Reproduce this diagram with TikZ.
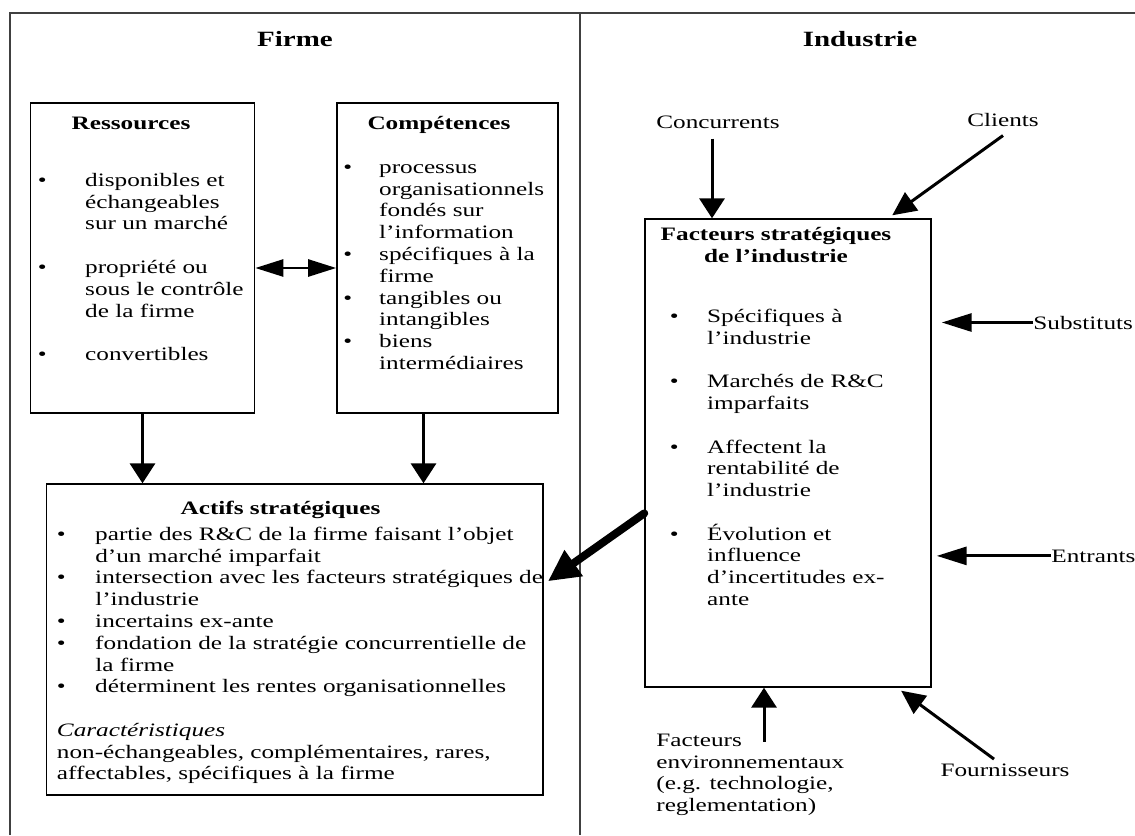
\documentclass[tikz,border=0pt]{standalone}
\usepackage{fontspec}
\setmainfont{Liberation Serif}[FakeStretch=1.33]
\usetikzlibrary{arrows.meta,calc}
\newcommand{\puce}[1]{\makebox[#1][l]{\textbullet}}
\newcommand{\suite}[1]{\hspace*{#1}}

\begin{document}
\begin{tikzpicture}[x=0.02cm,y=-0.02cm,
        texte/.style={font=\fontsize{10.8pt}{12.4pt}\selectfont, inner sep=0pt},
        bloc/.style={texte, align=left, anchor=north west},
        titre/.style={font=\fontsize{12.4pt}{14pt}\selectfont\bfseries, inner sep=0pt, anchor=base},
        stitre/.style={font=\fontsize{10.8pt}{12.4pt}\selectfont\bfseries, inner sep=0pt, anchor=base},
        cadre/.style={draw, line width=0.85pt, inner sep=0pt},
        vfl/.style={line width=1.7pt, -{Triangle[length=11.3pt,width=14.2pt]}},
        hfl/.style={line width=1.7pt, -{Triangle[length=17pt,width=10.2pt]}},
        dfl/.style={line width=1.7pt, -{Triangle[length=13.6pt,width=12.5pt]}}]
        \useasboundingbox (0,0) rectangle (1135,835);

        % cadre general
        \draw[line width=1.1pt, black!75] (10,835) -- (10,13) -- (1135,13);
        \draw[line width=1.1pt, black!75] (580,13) -- (580,835);

        \node[titre] (firme) at (295,46.5) {Firme};
        \node[titre] (industrie) at (860,46.5) {Industrie};

        % boites
        \node[cadre, minimum width=4.48cm, minimum height=6.2cm] (res) at (142.5,258) {};
        \node[cadre, minimum width=4.42cm, minimum height=6.2cm] (comp) at (447.5,258) {};
        \node[cadre, minimum width=9.94cm, minimum height=6.22cm] (act) at (294.7,639.5) {};
        \node[cadre, minimum width=5.72cm, minimum height=9.36cm] (fact) at (788,453) {};

        \node[stitre] (tres) at (131,129) {Ressources};
        \node[stitre] (tcomp) at (439,129) {Compétences};
        \node[stitre] (tact) at (280.5,514) {Actifs stratégiques};
        \node[stitre, align=center, anchor=north] (tfact) at (776,224.7) {\strut Facteurs stratégiques\\de l’industrie};

        \node[bloc] (lres) at (37.6,170.7) {\strut\puce{26.9pt}disponibles et\\
            \suite{26.9pt}échangeables\\
            \suite{26.9pt}sur un marché\\[12.4pt]
            \puce{26.9pt}propriété ou\\
            \suite{26.9pt}sous le contrôle\\
            \suite{26.9pt}de la firme\\[12.4pt]
            \puce{26.9pt}convertibles};

        \node[bloc] (lcomp) at (343,157.7) {\strut\puce{20.4pt}processus\\
            \suite{20.4pt}organisationnels\\
            \suite{20.4pt}fondés sur\\
            \suite{20.4pt}l’information\\
            \puce{20.4pt}spécifiques à la\\
            \suite{20.4pt}firme\\
            \puce{20.4pt}tangibles ou\\
            \suite{20.4pt}intangibles\\
            \puce{20.4pt}biens\\
            \suite{20.4pt}intermédiaires};

        \node[bloc] (lact) at (56.6,524.7) {\strut\puce{21.8pt}partie des R\&C de la firme faisant l’objet\\
            \suite{21.8pt}d’un marché imparfait\\
            \puce{21.8pt}intersection avec les facteurs stratégiques de\\
            \suite{21.8pt}l’industrie\\
            \puce{21.8pt}incertains ex-ante\\
            \puce{21.8pt}fondation de la stratégie concurrentielle de\\
            \suite{21.8pt}la firme\\
            \puce{21.8pt}déterminent les rentes organisationnelles\\[12.4pt]
            \textit{Caractéristiques}\\
            non-échangeables, complémentaires, rares,\\
            affectables, spécifiques à la firme};

        \node[bloc] (lfact) at (669.6,306.7) {\strut\puce{21.2pt}Spécifiques à\\
            \suite{21.2pt}l’industrie\\[12.4pt]
            \puce{21.2pt}Marchés de R\&C\\
            \suite{21.2pt}imparfaits\\[12.4pt]
            \puce{21.2pt}Affectent la\\
            \suite{21.2pt}rentabilité de\\
            \suite{21.2pt}l’industrie\\[12.4pt]
            \puce{21.2pt}Évolution et\\
            \suite{21.2pt}influence\\
            \suite{21.2pt}d’incertitudes ex-\\
            \suite{21.2pt}ante};

        % forces de l'industrie
        \node[texte, anchor=base] (conc) at (718,128) {Concurrents};
        \node[texte, anchor=base] (cli) at (1003,126) {Clients};
        \node[texte, anchor=base west] (sub) at (1033,329) {Substituts};
        \node[texte, anchor=base west] (ent) at (1051,562) {Entrants};
        \node[texte, anchor=base] (four) at (1005,776) {Fournisseurs};
        \node[bloc] (env) at (656,730.7) {\strut Facteurs\\environnementaux\\(e.g. technologie,\\reglementation)};

        % fleches
        \draw[vfl] (res.south) -- (res.south |- act.north);
        \draw[vfl] ([xshift=-0.48cm]comp.south) coordinate (c1) -- (c1 |- act.north);
        \draw[line width=1.7pt, {Triangle[length=16pt,width=9.6pt]}-{Triangle[length=16pt,width=9.6pt]}]
            ([yshift=-0.2cm]res.east) -- ([yshift=-0.2cm]comp.west);

        \draw[vfl] (conc.south) ++(-6,10) coordinate (c2) -- (c2 |- fact.north);
        \draw[dfl] ($(cli.south)+(0,9)$) -- ($(fact.north east)+(-39.5,-3)$);
        \draw[hfl] (sub.west) -- ($(fact.east |- sub.west)+(10,0)$);
        \draw[hfl] (ent.west) -- ($(fact.east |- ent.west)+(5,0)$);
        \draw[vfl] (env.north west) ++(108,11) coordinate (e1) -- (e1 |- fact.south);
        \draw[dfl] ($(four.north)+(-11,-4)$) -- ($(fact.south east)+(-30.6,3)$);

        \draw[line width=4.5pt, line cap=round, -{Triangle[length=18pt,width=17pt]}]
            ($(fact.north west)+(0,295)$) -- ($(act.north east)+(4,98)$);
    \end{tikzpicture}
\end{document}
